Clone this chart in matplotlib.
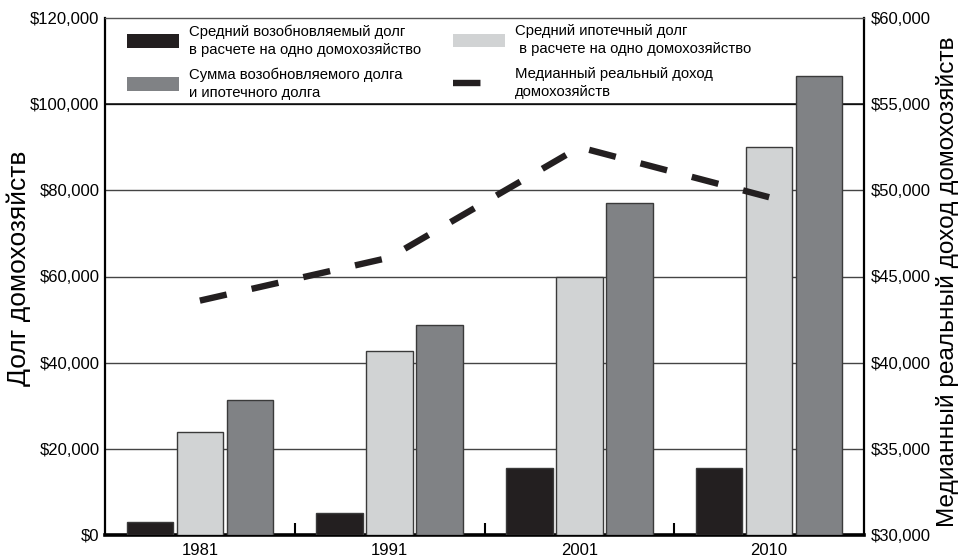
import matplotlib.pyplot as plt
from matplotlib.patches import Rectangle, Patch
from matplotlib.lines import Line2D
from matplotlib.ticker import FuncFormatter

plt.rcParams['font.family'] = ['Liberation Sans', 'DejaVu Sans']

years = ['1981', '1991', '2001', '2010']
revolving_debt = [3000, 5100, 15500, 15500]
mortgage_debt = [24000, 42700, 60000, 90000]
total_debt = [31300, 48700, 77000, 106500]
median_income = [43600, 46100, 52500, 49600]

c_black = '#231f20'
c_light = '#d1d3d4'
c_dark = '#808285'
c_edge = '#3a3a3a'

money = FuncFormatter(lambda v, p: '${:,.0f}'.format(v))

fig = plt.figure(figsize=(9.58, 5.59), dpi=100)
ax = fig.add_axes([105 / 958, 24 / 559, 759 / 958, 517 / 559])

x = list(range(len(years)))
w = 0.245
off = 0.263
ax.bar([i - off for i in x], revolving_debt, w, color=c_black, edgecolor=c_edge, lw=1, zorder=3)
ax.bar(x, mortgage_debt, w, color=c_light, edgecolor=c_edge, lw=1, zorder=3)
ax.bar([i + off for i in x], total_debt, w, color=c_dark, edgecolor=c_edge, lw=1, zorder=3)

ax.set_xlim(-0.5, 3.5)
ax.set_ylim(0, 120000)
ax.set_yticks(range(0, 120001, 20000))
ax.yaxis.set_major_formatter(money)
ax.grid(axis='y', color='#444444', lw=1)
ax.set_axisbelow(True)
ax.set_xticks(x)
ax.set_xticklabels(years)
ax.set_xticks([0.5, 1.5, 2.5], minor=True)
ax.tick_params(axis='x', which='major', length=0, labelsize=12, pad=6)
ax.tick_params(axis='x', which='minor', direction='in', length=9, width=1.5, color='black')
ax.tick_params(axis='y', length=0, labelsize=12, pad=4)
ax.set_ylabel('Долг домохозяйств', fontsize=19, rotation=90, va='center', ha='center')
ax.yaxis.set_label_coords(-0.114, 0.516)

for s in ['left', 'right']:
    ax.spines[s].set_linewidth(1.6)
ax.spines['bottom'].set_linewidth(2.6)
ax.spines['top'].set_color('#555555')
ax.spines['top'].set_linewidth(1)

ax2 = ax.twinx()
ax2.set_ylim(30000, 60000)
ax2.set_yticks(range(30000, 60001, 5000))
ax2.yaxis.set_major_formatter(money)
ax2.tick_params(axis='y', length=0, labelsize=12, pad=5)
ax2.set_ylabel('Медианный реальный доход домохозяйств', fontsize=17.6,
               rotation=90, va='center', ha='center')
ax2.yaxis.set_label_coords(1.11, 0.49)
for s in ax2.spines.values():
    s.set_visible(False)
ax2.plot(x, median_income, color=c_black, lw=4.6, dashes=(4.3, 4.0),
         solid_capstyle='butt', dash_capstyle='butt', zorder=4)

# legend box across the top of the plot, behind the bars
ax.add_patch(Rectangle((-0.5, 100000), 4, 20000, facecolor='white',
                       edgecolor='black', lw=1.1, zorder=2))
dash_handle = Line2D([], [], color=c_black, lw=4.6, dashes=(4.3, 4.0), dash_capstyle='butt')
leg_kw = dict(loc='upper left', frameon=False, fontsize=10.7, handlelength=3.5,
              handleheight=1.0, handletextpad=0.65, labelspacing=0.7,
              borderaxespad=0, borderpad=0)
leg1 = ax.legend([Patch(facecolor=c_black), Patch(facecolor=c_dark)],
                 ['Средний возобновляемый долг\nв расчете на одно домохозяйство',
                  'Сумма возобновляемого долга\nи ипотечного долга'],
                 bbox_to_anchor=(0.029, 0.988), **leg_kw)
ax.add_artist(leg1)
leg2 = ax.legend([Patch(facecolor=c_light), dash_handle],
                 ['Средний ипотечный долг\n в расчете на одно домохозяйство',
                  'Медианный реальный доход\nдомохозяйств'],
                 bbox_to_anchor=(0.459, 0.988), **leg_kw)
for leg in (leg1, leg2):
    leg.set_zorder(2.5)
    for t in leg.get_texts():
        t.set_linespacing(1.38)

fig.savefig('out.png', dpi=100)
